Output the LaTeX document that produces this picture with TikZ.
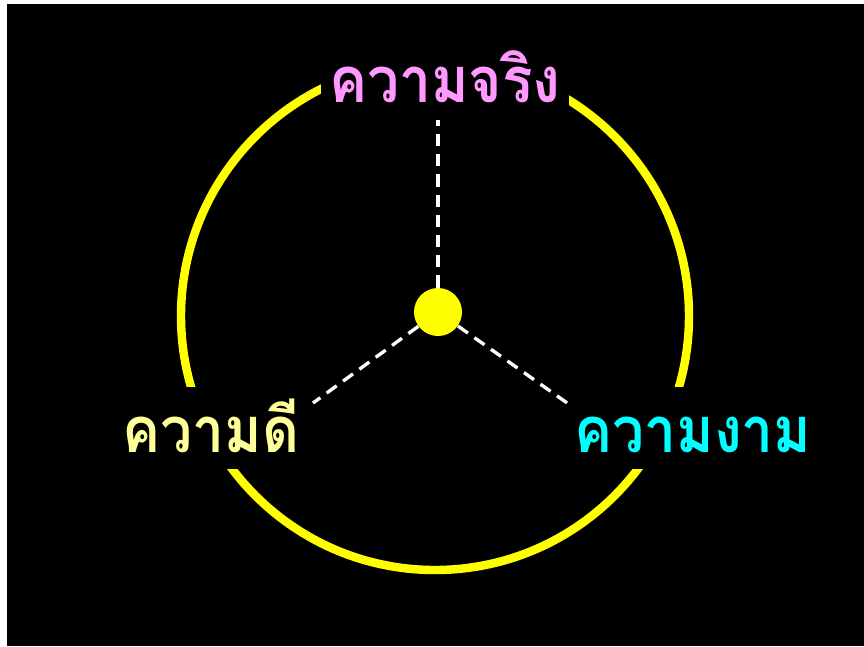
\documentclass[tikz,border=0pt]{standalone}
\usepackage{fontspec}
\newfontfamily\thaifont[Script=Thai,FakeStretch=0.9]{Loma}
\usepackage{xcolor}
\usetikzlibrary{positioning}

\definecolor{ringyellow}{RGB}{255,255,0}
\definecolor{truthpink}{RGB}{255,153,255}
\definecolor{goodyellow}{RGB}{255,255,153}
\definecolor{beautycyan}{RGB}{0,255,255}

\begin{document}
\begin{tikzpicture}[
    x=0.02cm, y=-0.02cm,
    virtue/.style={fill=black, inner ysep=0pt, inner xsep=0.16cm, anchor=base,
                   text height=1.3cm, text depth=0.34cm,
                   font=\thaifont\bfseries\fontsize{36}{40}\selectfont},
    ring/.style={draw=ringyellow, line width=4.8pt},
    spoke/.style={draw=white, line width=1.9pt, dash pattern=on 7pt off 4.5pt}
]
\useasboundingbox (0,0) rectangle (864,646);
\fill[black] (7,4) rectangle (864,646);

% the circle, cut by the three labels
\draw[ring] (435,316) circle (254);

\node[virtue, text=truthpink]  (truth)  at (445,102) {ความจริง};
\node[virtue, text=goodyellow] (good)   at (211,452) {ความดี};
\node[virtue, text=beautycyan] (beauty) at (693,452) {ความงาม};

\node[circle, fill=ringyellow, minimum size=0.96cm, inner sep=0pt] (hub) at (438,312) {};

\coordinate (truthend)  at (438,120);
\coordinate (goodend)   at (313,403);
\coordinate (beautyend) at (570,405);

\draw[spoke] (hub) -- (truthend);
\draw[spoke] (hub) -- (goodend);
\draw[spoke] (hub) -- (beautyend);

\end{tikzpicture}
\end{document}
